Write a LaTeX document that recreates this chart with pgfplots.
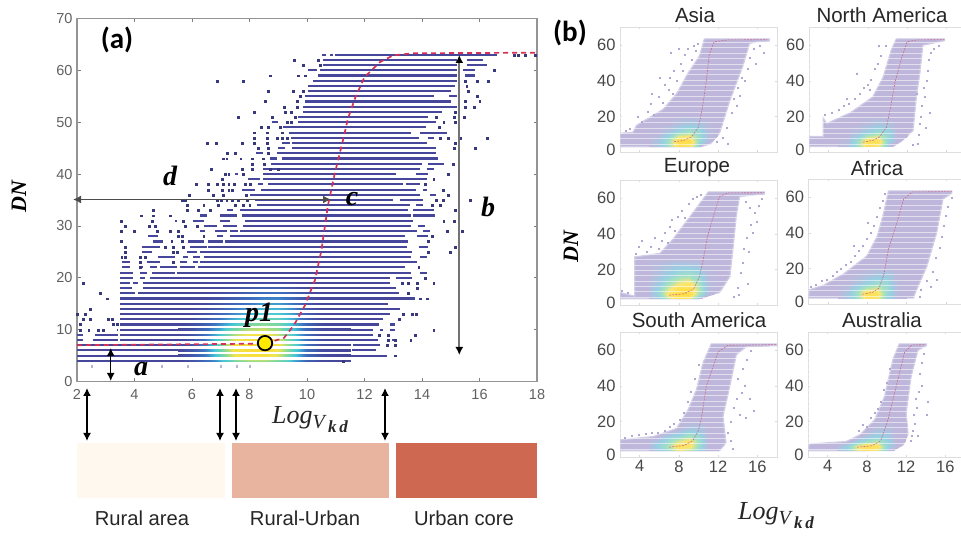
\documentclass[border=0pt]{standalone}
\usepackage{fontspec}
\setmainfont{Liberation Sans}
\newfontfamily\mathish{Liberation Serif}
\newfontfamily\cali{Carlito}
\usepackage{pgfplots}
\pgfplotsset{compat=1.18}
\usetikzlibrary{arrows.meta}
\definecolor{navy}{RGB}{70,70,155}
\definecolor{lav}{RGB}{190,183,219}
\definecolor{pdot}{RGB}{176,168,210}
\definecolor{redc}{RGB}{214,48,84}
\pgfplotsset{
 panel/.style={scale only axis,width=157pt,height=124.5pt,anchor=south west,
  xmin=2,xmax=18,ymin=0,ymax=70,
  axis line style={draw=black!13,line width=0.9pt},
  tick style={draw=black!15,line width=0.6pt},tick align=inside,
  major tick length=2pt,
  xtick={4,8,12,16},ytick={0,20,40,60},
  yticklabels={\raisebox{5pt}{0},\raisebox{-2pt}{20},40,\raisebox{2pt}{60}},
  every tick label/.append style={font=\fontsize{16.5}{17}\selectfont,text=black!72},
  yticklabel style={xshift=-1pt},
  /pgf/number format/assume math mode=true,
  colormap={pheat}{rgb255=(190,183,219) rgb255=(150,208,226) rgb255=(165,226,190) rgb255=(248,230,120) rgb255=(255,222,70)},
  point meta min=0,point meta max=1,
 },
 pfill/.style={fill=lav,draw=lav!70,line width=1.2pt},
 pdots/.style={only marks,mark=square*,mark size=0.5pt,mark options={draw=pdot,fill=pdot,line width=0.1pt}},
 pred/.style={no marks,line width=0.6pt,draw=redc!55!lav,dash pattern=on 2pt off 1.2pt},
 pheat/.style={surf,shader=interp,mesh/cols=8,point meta=explicit},
 pstripe/.style={no marks,draw=white,opacity=0.55,line width=0.9pt,quiver={u=17,v=0}},
}
\newcommand\stripes{\addplot[pstripe] coordinates {(1.5,4.5)(1.5,7.5)(1.5,10.5)(1.5,13.5)(1.5,16.5)(1.5,19.5)(1.5,22.5)(1.5,25.5)(1.5,28.5)(1.5,31.5)(1.5,34.5)(1.5,37.5)(1.5,40.5)(1.5,43.5)(1.5,46.5)(1.5,49.5)(1.5,52.5)(1.5,55.5)(1.5,58.5)(1.5,61.5)};}
\begin{document}
\begin{tikzpicture}[x=1pt,y=1pt]
\useasboundingbox (0,0) rectangle (961,537);
% ---------- panel (a)
\begin{axis}[at={(77pt,155.5pt)},anchor=south west,scale only axis,width=460pt,height=363pt,
 xmin=2,xmax=18,ymin=0,ymax=70,
 xtick={2,4,...,18},ytick={0,10,...,70},
 axis line style={draw=black!42,line width=1.2pt},
 tick style={draw=black!50,line width=0.7pt},tick align=inside,major tick length=3.5pt,
 every tick label/.append style={font=\fontsize{14.5}{15}\selectfont,text=black!62},
 xticklabel style={yshift=-4pt},yticklabel style={xshift=-1pt},
 /pgf/number format/assume math mode=true,
 colormap={mheat}{rgb255=(70,70,155) rgb255=(60,115,195) rgb255=(70,200,215) rgb255=(135,218,150) rgb255=(240,228,80) rgb255=(252,218,50)},
 point meta min=0,point meta max=1,
]
\addplot[no marks,draw=navy,line width=2.1pt,quiver={u=\thisrow{b}-\thisrow{a},v=0}] table[x=a,y=y] {
a b y
10.97 16.6 63
10.51 10.65 63
10.8 10.92 63
10.57 15.2 62
15.55 16.13 62
10.57 15.2 61
15.55 16.25 61
10.45 15.2 60
15.44 15.84 60
10.05 10.34 60
10.39 15.2 59
15.5 15.84 59
10.22 15.2 58
10.05 15.15 57
10.05 15 56
9.93 14.4 55
14.95 15.2 55
9.93 15 54
9.87 15.2 53
9.85 14.7 52
9.7 14.2 51
9.7 14.5 50
8.77 9 50
9.18 14.15 49
9.39 13.6 48
13.93 14.86 48
9.44 13.9 47
14.2 14.4 47
9.47 14.16 46
9.12 9.41 46
9.47 14.5 45
9 9.24 45
8.97 14.5 44
8.23 8.48 44
9.12 14.55 43
8.71 8.95 43
8.74 14 42
14.2 14.75 42
8.48 13.93 41
14.16 14.4 41
8.48 13.1 40
13.8 14.22 40
7.5 7.6 40
8.48 14.16 39
7.96 8.37 39
8.66 13.35 38
13.46 13.93 38
8.31 8.48 38
8.4 13.8 37
14.05 14.16 37
7.73 8.19 37
8.02 13.93 36
14.28 14.5 36
8.19 13 35
13.24 14.05 35
8.25 13.58 34
13.8 14.05 34
7.67 13.53 33
13.7 14.4 33
7.21 7.44 33
7.73 13.6 32
13.7 14.45 32
6.28 6.51 32
6.98 7.55 32
7.84 13.7 31
5.41 5.47 31
6.05 6.4 31
6.98 7.32 31
7.79 13.6 30
13.87 14.1 30
6.4 6.86 30
7.09 7.55 30
7.67 13.82 29
14.05 14.28 29
6.28 6.45 29
6.8 7.21 29
7.32 7.6 29
7.55 13.4 28
13.82 14.2 28
4.48 4.83 28
6.86 7.09 28
7.32 7.55 28
7.15 13.5 27
4.66 5 27
5.87 6.4 27
6.57 7.09 27
6.57 13.47 26
13.88 14.2 26
4.25 4.89 26
5.93 6.51 26
6.28 13.65 25
4.25 4.6 25
5.82 6.16 25
6.4 13.6 24
13.93 14.16 24
4.83 5.41 24
5.7 5.87 24
6.05 6.28 24
6.28 13.82 23
3.55 3.84 23
4.42 4.89 23
5.58 5.82 23
6.05 6.22 23
6.22 13.42 22
3.55 3.84 22
4.19 4.31 22
4.54 4.77 22
4.89 5.47 22
5.58 6.11 22
5.47 13.6 21
13.93 14.16 21
3.5 3.96 21
4.19 4.42 21
4.6 5.41 21
5.58 12.9 20
13.1 13.65 20
3.5 3.96 20
4.19 4.37 20
4.54 5.58 20
4.31 12.9 19
3.5 3.84 19
3.96 4.13 19
4.31 13.1 18
3.5 3.9 18
4.13 13.2 17
3.5 4.02 17
3.5 13.75 16
3.5 12.8 15
3.5 13.25 14
3.5 12.9 13
3.5 12.65 12
3.5 12.5 11
12.9 13.05 11
3.5 12.3 10
12.54 12.66 10
12.9 13.05 10
3.38 3.44 10
3.5 12.3 9
2 2.22 9
2.63 3.44 9
3.5 12.48 8
2.57 3.44 8
2 2.2 8
12.95 13.12 8
2 11.5 7
11.6 12.54 7
2 11.5 6
11.55 12.4 6
2 10.9 5
11 12.77 5
2 9.65 4
9.7 10.15 4
10.35 10.57 4
};
\addplot[only marks,mark=square*,mark size=0.95pt,mark options={draw=navy!80!black,fill=navy!80!black,line width=0.1pt}] coordinates {
(17.2,63)(17.35,63)(17.58,63)(17.93,63)
(9.55,62)(10.39,62)
(9.87,61)(10.45,61)
(16.52,60)
(8.71,59)(9.7,59)(9.93,59)
(6.88,58)(7.76,58)(15.5,58)(15.9,58)(16.3,58)
(15.55,57)
(8.66,56)(9.5,56)(9.87,56)(15.6,56)
(9.76,55)(15.9,55)
(8.54,54)(9.64,54)(15.5,54)(16,54)
(9.2,53)(9.66,53)(15.5,53)(15.8,53)
(8.16,52)(9.24,52)(9.44,52)(15.15,52)
(7.6,51)(8.77,51)(9.58,51)(14.5,51)(15.1,51)(15.45,51)
(9.3,50)(9.44,50)(14.75,50)(15.15,50)
(8.39,49)(8.66,49)(9.06,49)(14.6,49)
(8.16,48)(8.6,48)(9.12,48)
(8.16,47)(8.62,47)(8.95,47)(9.12,47)(9.3,47)(14.63,47)(14.92,47)(15.32,47)(16.25,47)
(6.51,46)(6.84,46)(7.73,46)(8.16,46)(8.62,46)(15.15,46)
(8.31,45)(8.66,45)(15.1,45)(15.84,45)
(7.23,44)(7.5,44)(8.66,44)
(7.09,43)(7.2,43)(7.69,43)(8.08,43)(8.48,43)
(8.08,42)(8.5,42)(15.09,42)
(6.65,41)(7.73,41)(8.08,41)(8.71,41)(9,41)
(7.15,40)(7.27,40)(7.79,40)(14.92,40)
(7.03,39)(14.4,39)
(6.14,38)(6.57,38)(6.86,38)(7.09,38)(7.27,38)(7.46,38)(7.84,38)(8.02,38)(14.1,38)
(6.57,37)(7.03,37)(7.27,37)(7.38,37)(14.74,37)
(5.9,36)(6.74,36)(7.09,36)(7.88,36)(14.92,36)
(5.64,35)(5.76,35)(6.86,35)(7,35)(7.2,35)(7.4,35)(7.6,35)(7.9,35)(14.5,35)(14.74,35)(15.67,35)
(5.82,34)(6.4,34)(6.92,34)(7.5,34)(7.79,34)(8,34)(14.34,34)(14.63,34)
(4.66,33)(5.82,33)(6.22,33)(6.63,33)(15.15,33)
(4.23,32)(4.66,32)(5.24,32)
(3.53,31)(4.6,31)(5.7,31)(14.75,31)(15.1,31)
(3.67,30)(4.52,30)(4.71,30)(5.76,30)(6.16,30)
(3.53,29)(3.98,29)(4.77,29)(5.24,29)(5.53,29)(14.86,29)(15.4,29)
(5.53,28)(5.64,28)(6.4,28)(14.34,28)
(3.53,27)(5.29,27)(5.64,27)(14.22,27)
(3.67,26)(5.06,26)(5.35,26)(5.7,26)(15.15,26)
(3.67,25)(5.35,25)(5.47,25)(14.22,25)(14.98,25)
(3.55,24)(3.67,24)(4.19,24)(4.37,24)
(4.19,23)(5.35,23)
(4.19,22)(13.88,22)
(14.1,20)
(2.22,19)(13.3,19)(13.5,19)(13.82,19)(14.4,19)
(13.82,18)
(2.8,17)(13.5,17)
(3.06,16)(13.93,16)(14.16,16)
(2.45,14)
(2,13)(2.28,13)(13.35,13)(13.65,13)(13.8,13)
(2.22,12)(2.45,12)(3.09,12)(3.21,12)(13.2,12)
(2.11,11)(3.26,11)(3.38,11)
(2.11,10)(2.4,10)(2.74,10)(2.92,10)(14.4,10)
(12.5,9)(12.83,9)(13.76,9)
(12.83,8)(13.06,8)(13.6,8)
(12.77,7)(13.06,7)
(13.06,5)
(11.26,4)
};
\addplot[only marks,mark=square*,mark size=0.7pt,mark options={draw=navy!40!white,fill=navy!40!white,line width=0.1pt}] coordinates {
(2.5,3)(4.95,3)(5.85,3)(7,3)(7.55,3)(8,3)};
\addplot[surf,shader=interp,mesh/cols=13,point meta=explicit] coordinates {
(5.5,3.5)[0](6,3.5)[.05](6.5,3.5)[.15](7,3.5)[.3](7.5,3.5)[.45](8,3.5)[.55](8.5,3.5)[.55](9,3.5)[.45](9.5,3.5)[.3](10,3.5)[.1](10.5,3.5)[.02](11,3.5)[0](11.5,3.5)[0]
(5.5,5)[0](6,5)[.08](6.5,5)[.22](7,5)[.5](7.5,5)[.8](8,5)[.9](8.5,5)[.9](9,5)[.75](9.5,5)[.42](10,5)[.15](10.5,5)[.03](11,5)[0](11.5,5)[0]
(5.5,7)[0](6,7)[.08](6.5,7)[.25](7,7)[.55](7.5,7)[.88](8,7)[1](8.5,7)[1](9,7)[.85](9.5,7)[.5](10,7)[.18](10.5,7)[.03](11,7)[0](11.5,7)[0]
(5.5,9)[0](6,9)[.05](6.5,9)[.2](7,9)[.42](7.5,9)[.7](8,9)[.85](8.5,9)[.88](9,9)[.72](9.5,9)[.42](10,9)[.16](10.5,9)[.02](11,9)[0](11.5,9)[0]
(5.5,11)[0](6,11)[.03](6.5,11)[.12](7,11)[.27](7.5,11)[.42](8,11)[.55](8.5,11)[.6](9,11)[.55](9.5,11)[.36](10,11)[.12](10.5,11)[.02](11,11)[0](11.5,11)[0]
(5.5,13)[0](6,13)[.01](6.5,13)[.06](7,13)[.15](7.5,13)[.27](8,13)[.38](8.5,13)[.45](9,13)[.42](9.5,13)[.3](10,13)[.1](10.5,13)[.01](11,13)[0](11.5,13)[0]
(5.5,15)[0](6,15)[0](6.5,15)[.02](7,15)[.08](7.5,15)[.15](8,15)[.22](8.5,15)[.3](9,15)[.3](9.5,15)[.2](10,15)[.07](10.5,15)[0](11,15)[0](11.5,15)[0]
(5.5,17)[0](6,17)[0](6.5,17)[0](7,17)[.03](7.5,17)[.07](8,17)[.12](8.5,17)[.17](9,17)[.18](9.5,17)[.12](10,17)[.04](10.5,17)[0](11,17)[0](11.5,17)[0]
(5.5,19.5)[0](6,19.5)[0](6.5,19.5)[0](7,19.5)[0](7.5,19.5)[0](8,19.5)[0](8.5,19.5)[0](9,19.5)[0](9.5,19.5)[0](10,19.5)[0](10.5,19.5)[0](11,19.5)[0](11.5,19.5)[0]
};
\addplot[no marks,draw=white,line width=2.9pt,quiver={u=6.7,v=0}] coordinates {
(5.4,3.5)(5.4,4.5)(5.4,5.5)(5.4,6.5)(5.4,7.5)(5.4,8.5)(5.4,9.5)(5.4,10.5)(5.4,11.5)(5.4,12.5)(5.4,13.5)(5.4,14.5)(5.4,15.5)(5.4,16.5)(5.4,17.5)(5.4,18.5)(5.4,19.5)};
\addplot[no marks,draw=redc,line width=1.7pt,dash pattern=on 5pt off 4pt] coordinates {
(2,7)(8.54,7.3)(9.2,8.4)(9.55,10.9)(9.93,14.7)(10.28,19.6)(10.5,25.3)(10.73,34)(10.97,40.2)(11.25,46.5)(11.43,50.8)(11.67,54.6)(12,58.7)(12.54,61.6)(13,62.9)(13.7,63.3)(18,63.4)};
\addplot[only marks,mark=*,mark size=7.2pt,mark options={draw=black,line width=1.8pt,fill=yellow!92!orange}] coordinates {(8.54,7.4)};
\end{axis}
% arrows of (a)
\begin{scope}[>={Latex[length=8pt,width=8pt]},line width=1.5pt]
\draw[<->,draw=black!70] (73,337.5) -- (331,337.5);
\draw[<->,draw=black] (110.7,189) -- (110.7,156);
\draw[draw=black!55,line width=1.8pt,{Latex[length=8pt,width=8pt,black]}-{Latex[length=8pt,width=8pt,black]}] (459.3,482) -- (459.3,182);
\draw[<->] (87,149) -- (87,96);
\draw[<->] (220,149) -- (220,96);
\draw[<->] (236,149) -- (236,96);
\draw[<->] (385,149) -- (385,96);
\end{scope}
\fill[fill={rgb,255:red,254;green,248;blue,238}] (77,39) rectangle (225,94);
\fill[fill={rgb,255:red,232;green,180;blue,160}] (232,39) rectangle (389,94);
\fill[fill={rgb,255:red,207;green,104;blue,80}] (396,39) rectangle (537,94);
\node[text=black!85,font=\fontsize{20.2}{21}\selectfont] at (142,19) {Rural area};
\node[text=black!85,font=\fontsize{20.2}{21}\selectfont] at (305,19) {Rural-Urban};
\node[text=black!85,font=\fontsize{20.2}{21}\selectfont] at (464,19) {Urban core};
\node[font=\cali\bfseries\fontsize{29}{29}\selectfont] at (117,497) {(a)};
\node[font=\cali\bfseries\fontsize{29}{29}\selectfont] at (570,504) {(b)};
\node[font=\mathish\bfseries\itshape\fontsize{28}{28}\selectfont] at (170,361) {d};
\node[font=\mathish\bfseries\itshape\fontsize{28}{28}\selectfont] at (352,338) {c};
\node[font=\mathish\bfseries\itshape\fontsize{28}{28}\selectfont] at (488,330) {b};
\node[font=\mathish\bfseries\itshape\fontsize{28}{28}\selectfont] at (141,168) {a};
\node[font=\mathish\bfseries\itshape\fontsize{28}{28}\selectfont] at (259,222) {p1};
\node[rotate=90,font=\mathish\bfseries\itshape\fontsize{22}{22}\selectfont] at (19,340) {DN};
\node[rotate=90,font=\mathish\bfseries\itshape\fontsize{22}{22}\selectfont] at (571,290) {DN};
\node[font=\mathish\itshape\fontsize{26}{26}\selectfont,text=black!85] at (310,117) {Log\raisebox{-5pt}{\fontsize{20}{20}\selectfont V\,\raisebox{-4pt}{\bfseries\fontsize{17}{17}\selectfont k\,d}}};
\node[font=\mathish\itshape\fontsize{26}{26}\selectfont,text=black!85] at (776,21) {Log\raisebox{-5pt}{\fontsize{20}{20}\selectfont V\,\raisebox{-4pt}{\bfseries\fontsize{17}{17}\selectfont k\,d}}};
% ---------- Asia
\begin{axis}[panel,at={(620pt,385pt)},xticklabels={}]
\addplot[pfill] coordinates {(2,3)(10.2,3)(11.2,4.5)(12.15,10.6)(13.2,29)(14.5,48)(15.2,61)(16,62)(17.2,62.4)(17.2,63.6)(10.6,63.6)(10.1,54)(8.9,44)(7.8,33)(6.4,24)(3.7,15)(3.3,11)(2,10.5)} -- cycle;
\addplot[pheat] coordinates {
(5,3)[0](6,3)[.15](7,3)[.45](8,3)[.95](9,3)[.85](9.9,3)[.3](10,3)[.05](10.1,3)[0]
(5,6)[0](6,6)[.15](7,6)[.5](8,6)[1](9,6)[1](10,6)[.4](11,6)[.05](11.4,6)[0]
(5,9)[0](6,9)[.05](7,9)[.3](8,9)[.7](9,9)[.75](10,9)[.4](11,9)[.05](11.9,9)[0]
(5,12)[0](6,12)[0](7,12)[.1](8,12)[.3](9,12)[.45](10,12)[.35](11,12)[.05](12,12)[0]
(5,16)[0](6,16)[0](7,16)[0](8,16)[.08](9,16)[.15](10,16)[.15](11,16)[.03](12,16)[0]
(5.5,20)[0](6,20)[0](7,20)[0](8,20)[0](9,20)[0](10,20)[0](11,20)[0](12,20)[0]
};
\stripes
\addplot[pred] coordinates {(7.5,5.8)(8.5,6.5)(9.3,8.5)(10,14)(10.4,25)(10.8,40)(11.1,55)(11.6,62)(13,63)(17,63.2)};
\addplot[pdots] coordinates {(3.8,20)(4.2,17)(4.8,23)(5.1,27)(5.4,21)(5.9,31)(6.3,28)(6.5,38)(6.9,35)(7,42)(7.4,33)(7.5,46)(7.8,40)(8.2,50)(8.4,46)(8.6,55)(8.9,58)(9.3,52)(9.5,60)(9.7,57)(9.9,61)(5.2,33)(6,42)(7.1,56)(8,58)(2.6,12)(3,13)(11.8,6)(12.4,8)(12.9,14)(13.4,22)(13.6,30)(14,36)(13.9,26)(14.4,42)(14.7,40)(15,47)(15.2,53)(15.6,58)(15.8,50)(16.2,60)(16.6,56)(13,5)(14.2,32)};
\end{axis}
\node[font=\fontsize{20.5}{21}\selectfont,text=black!85] at (695,522) {Asia};
% ---------- North America
\begin{axis}[panel,at={(809pt,385pt)},xticklabels={}]
\addplot[pfill] coordinates {(2,3)(10.6,3.2)(11.4,6)(12.6,12)(12.9,29)(13.3,44.5)(13.6,60)(15.8,62.6)(15.8,63.6)(10.9,63.6)(10.4,57.6)(9.55,42)(8.5,31)(6.2,22)(3.8,16)(3.46,19)(3.46,8.7)(2,8.7)} -- cycle;
\addplot[pheat] coordinates {
(5,3.2)[0](6,3.2)[.1](7,3.2)[.45](8,3.2)[.95](9,3.2)[.75](10,3.2)[.2](10.3,3.2)[0](10.5,3.2)[0]
(5,6)[0](6,6)[.05](7,6)[.45](8,6)[.95](9,6)[.95](10,6)[.3](11,6)[0](11.3,6)[0]
(5,9)[0](6,9)[0](7,9)[.2](8,9)[.55](9,9)[.65](10,9)[.35](11,9)[0](12,9)[0]
(5,12)[0](6,12)[0](7,12)[.05](8,12)[.2](9,12)[.35](10,12)[.3](11,12)[0](12,12)[0]
(5,16)[0](6,16)[0](7,16)[0](8,16)[.05](9,16)[.12](10,16)[.1](11,16)[0](12,16)[0]
(5.5,20)[0](6,20)[0](7,20)[0](8,20)[0](9,20)[0](10,20)[0](11,20)[0](12,20)[0]
};
\stripes
\addplot[pred] coordinates {(7.5,5.5)(8.5,6.5)(9.2,8.5)(9.9,14)(10.3,25)(10.8,40)(11.4,52)(12,62)(13,63)(15.8,63.2)};
\addplot[pdots] coordinates {(3.6,21)(4.3,22)(5,24)(5.5,26)(6,27)(6.6,30)(7.2,33)(7.6,36)(8,38)(8.3,41)(8.7,47)(9,50)(9.3,54)(9.8,60)(6.8,44)(9.1,60)(5.8,30)(8.2,35)(13.1,5)(13.2,10)(13.3,16)(13.4,20)(13.5,26)(13.8,31)(13.7,36)(14,40)(14.1,46)(14.2,52)(14.4,56)(14.7,58)(13.9,14)(14.3,22)(15.2,60)(12.6,4)(13,33)};
\end{axis}
\node[font=\fontsize{20.5}{21}\selectfont,text=black!85] at (882,522) {North America};
% ---------- Europe
\begin{axis}[panel,at={(620pt,232pt)},xticklabels={}]
\addplot[pfill] coordinates {(2,3.5)(10,3.5)(12.15,7)(13.2,16)(13.5,31)(13.85,50)(14.2,61)(16.7,62.4)(16.7,63.6)(11,63.6)(9.45,52)(7.4,37)(6.06,29)(3.5,27)(3.5,5)(2,7)} -- cycle;
\addplot[pheat] coordinates {
(5,3.5)[0](6,3.5)[.2](7,3.5)[.6](8,3.5)[.9](9,3.5)[.8](9.8,3.5)[.25](9.9,3.5)[.03](10,3.5)[0]
(5,6)[.05](6,6)[.35](7,6)[.85](8,6)[1](9,6)[1](10,6)[.5](11,6)[.05](11.5,6)[0]
(5,9)[.05](6,9)[.3](7,9)[.7](8,9)[1](9,9)[1](10,9)[.55](11,9)[.05](12,9)[0]
(5,12)[.02](6,12)[.2](7,12)[.5](8,12)[.75](9,12)[.85](10,12)[.5](11,12)[.05](12,12)[0]
(5,17)[0](6,17)[.1](7,17)[.25](8,17)[.4](9,17)[.45](10,17)[.35](11,17)[.03](12,17)[0]
(5,26)[0](6,26)[0](7,26)[0](8,26)[0](9,26)[0](10,26)[0](11,26)[0](12,26)[0]
};
\stripes
\addplot[pred] coordinates {(7,5.5)(8.5,6.3)(9.5,9)(10.1,16)(10.46,25)(10.9,38)(11.3,46)(12.15,61)(13,63)(16.7,63.2)};
\addplot[pdots] coordinates {(2.2,8)(2.8,7)(3.6,29)(3.9,33)(4.2,36)(4.7,30)(5.1,33)(5.5,38)(5.9,32)(6.2,36)(6.5,41)(6.8,35)(7,44)(7.3,48)(7.6,42)(7.9,50)(8.3,53)(8.6,49)(9,57)(9.4,60)(9.8,61)(10.2,62)(14,10)(14.1,6)(14.3,18)(14.5,24)(14.6,32)(14.9,38)(15.1,30)(15.3,45)(15.5,41)(15.7,52)(15.9,47)(16.1,56)(16.4,60)(14.8,58)(15,12)(13.6,5)(15.2,55)};
\end{axis}
\node[font=\fontsize{20.5}{21}\selectfont,text=black!85] at (697,369) {Europe};
% ---------- Africa
\begin{axis}[panel,at={(808.5pt,233pt)},xticklabels={}]
\addplot[pfill] coordinates {(2,3.3)(12.7,3.3)(12.86,6)(14.05,21)(15.06,40)(15.7,59)(16.6,62.2)(16.6,63.6)(10.15,63.6)(9.65,51)(9,38)(7.95,27)(5.6,17)(3.55,10.6)(2.1,8)} -- cycle;
\addplot[pheat] coordinates {
(5,3.3)[0](6,3.3)[.15](7,3.3)[.45](8,3.3)[.9](9,3.3)[.8](10,3.3)[.25](11,3.3)[.02](12,3.3)[0]
(5,6)[0](6,6)[.15](7,6)[.5](8,6)[.95](9,6)[.9](10,6)[.35](11,6)[.02](12,6)[0]
(5,9)[0](6,9)[.05](7,9)[.3](8,9)[.55](9,9)[.65](10,9)[.4](11,9)[.02](12,9)[0]
(5,12)[0](6,12)[0](7,12)[.12](8,12)[.25](9,12)[.4](10,12)[.35](11,12)[.02](12,12)[0]
(5.5,16)[0](6,16)[0](7,16)[.03](8,16)[.1](9,16)[.18](10,16)[.2](11,16)[.02](12,16)[0]
(7,21)[0](7.5,21)[0](8,21)[0](9,21)[0](10,21)[0](10.5,21)[0](11,21)[0](12,21)[0]
};
\stripes
\addplot[pred] coordinates {(7.5,5.5)(8.5,6.5)(9.2,9)(9.7,17)(10.15,31)(10.8,42)(11.7,59)(12.6,63)(16.6,63.2)};
\addplot[pdots] coordinates {(2.2,10)(2.7,11)(3.3,13)(3.8,14)(4.4,16)(4.9,18)(5.3,20)(5.8,22)(6.3,24)(6.7,27)(7.1,30)(7.5,33)(7.9,37)(8.3,40)(8.6,44)(8.9,49)(9.2,54)(9.5,58)(9.8,62)(6.6,33)(8,46)(13.3,4)(13.4,8)(14,13)(14.6,18)(14.9,26)(15.4,32)(15.6,38)(15.8,44)(16,50)(16.2,55)(15,14)(14.4,10)(16.6,60)};
\end{axis}
\node[font=\fontsize{20.5}{21}\selectfont,text=black!85] at (877,369) {Africa};
% ---------- South America
\begin{axis}[panel,at={(620pt,80pt)}]
\addplot[pfill] coordinates {(2,3.5)(12.15,3.5)(12.8,8)(12.5,23)(13.2,40)(13.85,57.5)(14.86,62)(18,62.6)(18,63.6)(11.3,63.6)(10.46,53)(9.8,38)(8.94,26.6)(7.75,16)(5.4,11.5)(2,9.6)} -- cycle;
\addplot[pheat] coordinates {
(5,3.5)[.02](6,3.5)[.2](7,3.5)[.4](8,3.5)[.75](9,3.5)[.55](10,3.5)[.25](11,3.5)[0](12,3.5)[0]
(5,6)[.05](6,6)[.3](7,6)[.55](8,6)[.9](9,6)[.85](10,6)[.4](11,6)[0](12,6)[0]
(5,9)[0](6,9)[.15](7,9)[.4](8,9)[.65](9,9)[.85](10,9)[.45](11,9)[0](12,9)[0]
(5.8,12)[0](6.2,12)[.05](7,12)[.2](8,12)[.3](9,12)[.5](10,12)[.35](11,12)[0](12,12)[0]
(7.8,16)[0](7.9,16)[0](8,16)[.03](8.4,16)[.08](9,16)[.15](10,16)[.15](11,16)[0](12,16)[0]
(8.6,20)[0](8.8,20)[0](9,20)[0](9.5,20)[0](10,20)[0](10.5,20)[0](11,20)[0](12,20)[0]
};
\stripes
\addplot[pred] coordinates {(7,5.5)(8.5,6.5)(9.4,9)(10,15)(10.3,22)(10.8,40)(12,59)(13,62.8)(18,63.2)};
\addplot[pdots] coordinates {(2.5,11)(3.2,12)(3.9,12.5)(4.6,13)(5.2,13.5)(5.8,14)(6.5,15)(7,17)(7.5,19)(8.1,21)(8.5,25)(8.9,31)(9.2,37)(9.6,44)(10,52)(13,14)(13.3,20)(13.6,28)(13.9,33)(14.4,36)(14.7,40)(14,44)(14.5,50)(14.9,55)(15.3,60)(15.6,26)(15.2,33)(13.3,9)(14.2,24)(14.8,22)(13.5,5)};
\end{axis}
\node[font=\fontsize{20.5}{21}\selectfont,text=black!85] at (699,217) {South America};
% ---------- Australia
\begin{axis}[panel,at={(808pt,80pt)}]
\addplot[pfill] coordinates {(2,3.5)(10.66,3.6)(11.7,6.8)(12.2,13)(12,24.5)(12.5,45)(13.2,60)(14.05,62.6)(14.05,63.6)(11.3,63.6)(10.66,55)(9.8,34)(8.8,21)(7.3,12.5)(5.9,8.7)(2.13,7.3)} -- cycle;
\addplot[pheat] coordinates {
(5,3.6)[.05](6,3.6)[.25](7,3.6)[.7](8,3.6)[.9](9,3.6)[.7](10,3.6)[.2](10.4,3.6)[0](10.6,3.6)[0]
(5,6)[.05](6,6)[.25](7,6)[.7](8,6)[.95](9,6)[.9](10,6)[.3](11,6)[0](11.4,6)[0]
(6.3,9)[0](6.5,9)[.05](7,9)[.2](8,9)[.4](9,9)[.55](10,9)[.3](11,9)[0](11.9,9)[0]
(7.2,12)[0](7.3,12)[0](7.5,12)[.03](8,12)[.12](9,12)[.25](10,12)[.2](11,12)[0](12,12)[0]
(8.1,16)[0](8.2,16)[0](8.4,16)[0](8.6,16)[.03](9,16)[.08](10,16)[.08](11,16)[0](12,16)[0]
(8.8,20)[0](8.9,20)[0](9,20)[0](9.5,20)[0](10,20)[0](10.5,20)[0](11,20)[0](12,20)[0]
};
\stripes
\addplot[pred] coordinates {(7,5.5)(8.5,6.3)(9.4,9)(10.15,21)(11,40)(11.85,59)(12.6,63)(14,63.2)};
\addplot[pdots] coordinates {(7.2,15)(7.6,18)(8,17)(8.4,22)(8.8,25)(9.1,27)(9.4,31)(9.7,38)(10,42)(10.3,50)(12.4,9)(12.6,12)(12.7,15)(12.9,19)(12.8,24)(13.1,28)(13,33)(13.3,37)(13.6,40)(13.4,47)(13.6,53)(13.8,58)(14.1,24)(14.2,31)(13.2,12)};
\end{axis}
\node[font=\fontsize{20.5}{21}\selectfont,text=black!85] at (882,217) {Australia};
\end{tikzpicture}
\end{document}
